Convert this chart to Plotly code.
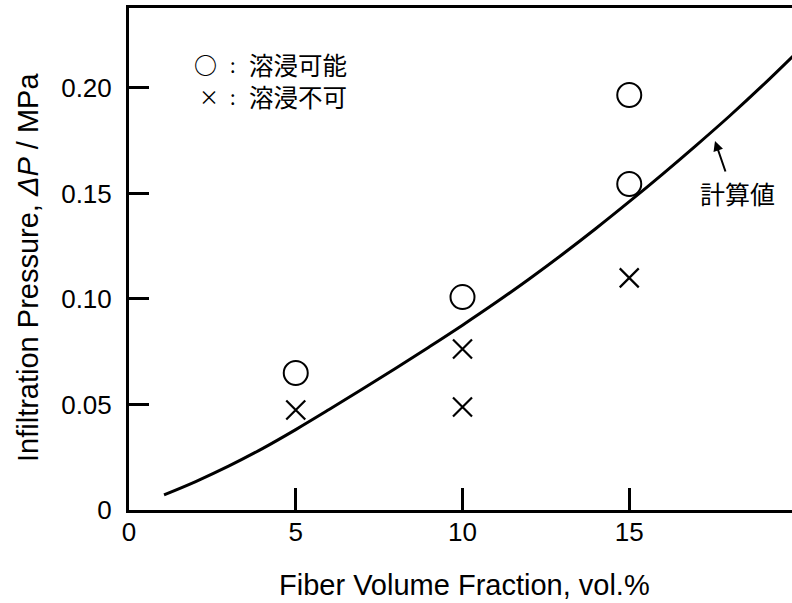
import plotly.graph_objects as go

# ---- data ----
possible_x = [5, 10, 15, 15]
possible_y = [0.0649, 0.1009, 0.1545, 0.1967]
impossible_x = [5, 10, 10, 15]
impossible_y = [0.0474, 0.0763, 0.0488, 0.110]
calc_x = [1.05, 2, 3, 4, 5, 6, 7, 8, 9, 10, 11, 12, 13, 14, 15, 16, 17, 18, 19, 20]
calc_y = [0.0072, 0.0135, 0.0209, 0.0291, 0.0381, 0.0476, 0.0573, 0.0672, 0.0773, 0.0876,
          0.0983, 0.1095, 0.1212, 0.1334, 0.1461, 0.1592, 0.1727, 0.1866, 0.2012, 0.2165]
x_ticks = [0, 5, 10, 15]
x_ticklabels = ["0", "5", "10", "15"]
y_ticks = [0, 0.05, 0.10, 0.15, 0.20]
y_ticklabels = ["0", "0.05", "0.10", "0.15", "0.20"]

# ---- layout geometry ----
W, H = 792, 603
L, R, T, B = 129, 0, 8, 93
XMAX = 19.88
YMAX = 0.2379

def px2x(px):
    return (px - L) / (W - L - R) * XMAX

def py2y(py):
    return (H - B - py) / (H - B - T) * YMAX

def px2paper(px):
    return (px - L) / (W - L - R)

def py2paper(py):
    return (H - B - py) / (H - B - T)

LAT = "Liberation Sans, Arial, sans-serif"
CJK = "Noto Sans CJK JP, sans-serif"

fig = go.Figure()
fig.add_trace(go.Scatter(x=calc_x, y=calc_y, mode="lines",
                         line=dict(color="black", width=3, shape="spline", smoothing=1.0),
                         showlegend=False))
fig.add_trace(go.Scatter(x=possible_x, y=possible_y, mode="markers",
                         marker=dict(symbol="circle-open", size=24, color="black",
                                     line=dict(width=2, color="black")),
                         showlegend=False))
fig.add_trace(go.Scatter(x=impossible_x, y=impossible_y, mode="markers",
                         marker=dict(symbol="x-thin-open", size=19, color="black",
                                     line=dict(width=2.2, color="black")),
                         showlegend=False))

def txt(px, py, s, size, family, xanchor="center"):
    fig.add_annotation(x=px2x(px), y=py2y(py), xref="x", yref="y", text=s, showarrow=False,
                       font=dict(size=size, family=family, color="black"),
                       xanchor=xanchor, yanchor="middle")

# legend-like labels
txt(205, 64, "<b>○</b>", 23, CJK)
txt(233, 64, ":", 20, CJK)
txt(247, 64, "溶浸可能", 24.5, CJK, "left")
txt(209, 96, "×", 20, CJK)
txt(233, 96, ":", 20, CJK)
txt(247, 96, "溶浸不可", 24.5, CJK, "left")
# curve label
txt(737, 193, "計算値", 25, CJK)
fig.add_annotation(x=px2x(715), y=py2y(141), ax=px2x(726), ay=py2y(173),
                   xref="x", yref="y", axref="x", ayref="y", text="", showarrow=True,
                   arrowhead=2, arrowsize=1, arrowwidth=2, arrowcolor="black")
# axis titles
fig.add_annotation(x=px2paper(464), y=py2paper(585), xref="paper", yref="paper",
                   text="Fiber Volume Fraction, vol.%", showarrow=False,
                   font=dict(size=29, family=LAT, color="black"),
                   xanchor="center", yanchor="middle")
fig.add_annotation(x=px2paper(28), y=py2paper(268), xref="paper", yref="paper",
                   text="Infiltration Pressure, <i>ΔP</i> / MPa", textangle=-90, showarrow=False,
                   font=dict(size=29, family=LAT, color="black"), xanchor="center", yanchor="middle")

fig.update_layout(
    width=W, height=H, margin=dict(l=L, r=R, t=T, b=B, pad=0),
    paper_bgcolor="white", plot_bgcolor="white",
    xaxis=dict(range=[0, XMAX], tickvals=x_ticks, ticktext=x_ticklabels, ticks="inside",
               ticklen=22, tickwidth=2.5, tickcolor="black", showline=True, linewidth=3,
               linecolor="black", mirror=True, showgrid=False, zeroline=False,
               tickfont=dict(size=26, family=LAT, color="black"), ticklabelstandoff=-3),
    yaxis=dict(range=[0, YMAX], tickvals=y_ticks, ticktext=y_ticklabels, ticks="inside",
               ticklen=20, tickwidth=2.5, tickcolor="black", showline=True, linewidth=3,
               linecolor="black", mirror=False, showgrid=False, zeroline=False,
               tickfont=dict(size=26, family=LAT, color="black"), ticklabelstandoff=9),
)
fig.write_html("out.html")
